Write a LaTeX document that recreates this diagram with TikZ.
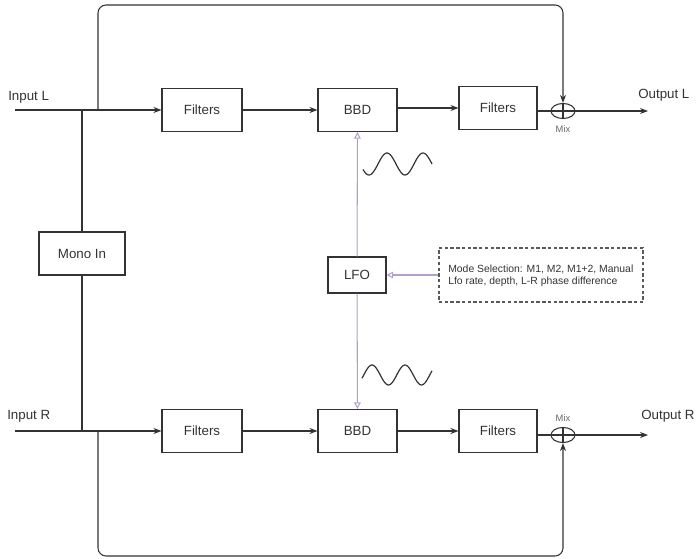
\documentclass[tikz,border=0pt]{standalone}
\usepackage{fontspec}
\setmainfont{Liberation Sans}
\usetikzlibrary{arrows.meta,shapes.geometric}
\definecolor{ln}{HTML}{333333}
\definecolor{lfoc}{HTML}{B49FC8}
\tikzset{
  blk/.style={draw=ln,line width=0.8pt,minimum height=43*0.75pt,inner sep=0pt,font=\fontsize{10}{12}\selectfont,text=ln},
  conn/.style={draw=ln,line width=0.8pt,-{Stealth[length=6pt,width=4.5pt]}},
  plain/.style={draw=ln,line width=0.8pt},
  pconn/.style={draw=lfoc,line width=0.8pt,-{Triangle[open,length=5pt,width=5pt]}},
  mixer/.style={ellipse,draw=ln,line width=0.8pt,minimum width=24*0.75pt,minimum height=15*0.75pt,inner sep=0pt},
  lbl/.style={font=\fontsize{10}{12}\selectfont,text=ln,inner sep=0pt,anchor=west},
  mixlbl/.style={font=\fontsize{7}{8}\selectfont,text=black!60,inner sep=0pt},
  wave/.style={draw=ln,line width=0.9pt,smooth}
}
\begin{document}
\begin{tikzpicture}[x=0.75pt,y=-0.75pt]
\useasboundingbox (0,0) rectangle (696,559);
% nodes top row
\node[blk,minimum width=80*0.75pt] (fL) at (202,110) {Filters};
\node[blk,minimum width=79*0.75pt] (bL) at (357.5,110) {BBD};
\node[blk,minimum width=78*0.75pt] (fL2) at (498,108) {Filters};
\node[mixer] (mL) at (563,111) {};
% bottom row
\node[blk,minimum width=80*0.75pt] (fR) at (202,431) {Filters};
\node[blk,minimum width=79*0.75pt] (bR) at (357.5,431) {BBD};
\node[blk,minimum width=78*0.75pt] (fR2) at (498,431) {Filters};
\node[mixer] (mR) at (563,435) {};
% middle
\node[blk,minimum width=86*0.75pt] (mono) at (82,253.5) {Mono In};
\node[blk,minimum width=58*0.75pt,minimum height=36*0.75pt] (lfo) at (357,275) {LFO};
\node[draw=black!65,line width=1pt,dash pattern=on 2.5pt off 1.8pt,minimum width=204*0.75pt,minimum height=54*0.75pt,inner sep=0pt] (ctl) at (541,275) {};
\node[font=\fontsize{7.8}{9}\selectfont,text=ln,align=left,anchor=west,inner sep=0pt] (ctltxt) at (448,276) {Mode Selection: M1, M2, M1+2, Manual\\Lfo rate, depth, L-R phase difference};
% labels
\node[lbl] (inLt) at (8,97) {Input L};
\node[lbl] (outLt) at (638,95) {Output L};
\node[lbl] (inRt) at (7,416) {Input R};
\node[lbl] (outRt) at (641,416) {Output R};
\node[mixlbl] (mixLt) at (563,129) {Mix};
\node[mixlbl] (mixRt) at (563,418) {Mix};
% coordinates
\coordinate (inL) at (15,110);
\coordinate (jL1) at (82,110);
\coordinate (jL2) at (98,110);
\coordinate (inR) at (15,431);
\coordinate (jR1) at (82,431);
\coordinate (jR2) at (98,431);
\coordinate (outL) at (648,111);
\coordinate (outR) at (648,435);
% crosses in mixers
\draw[plain] (mL.north) -- (mL.south);
\draw[plain] (mL.west) -- (mL.east);
\draw[plain] (mR.north) -- (mR.south);
\draw[plain] (mR.west) -- (mR.east);
% top signal path
\draw[conn] (inL) -- (fL);
\draw[conn] (fL) -- (bL);
\draw[conn] (bL.east |- fL2) -- (fL2);
\draw[plain] (fL2.east |- mL) -- (mL);
\draw[conn] (mL) -- (outL);
\draw[conn,rounded corners=6pt] (jL2) -- (98,5) -- (563,5) -- (mL.north);
% bottom signal path
\draw[conn] (inR) -- (fR);
\draw[conn] (fR) -- (bR);
\draw[conn] (bR) -- (fR2);
\draw[plain] (fR2.east |- mR) -- (mR);
\draw[conn] (mR) -- (outR);
\draw[conn,rounded corners=6pt] (jR2) -- (98,556) -- (563,556) -- (mR.south);
% mono
\draw[plain] (jL1) -- (mono);
\draw[plain] (mono) -- (jR1);
% LFO
\draw[pconn] (lfo) -- (bL);
\draw[pconn] (lfo) -- (bR);
\draw[pconn] (ctl) -- (lfo);
% waves
\draw[wave] plot[domain=363:432,samples=60] (\x,{164+11*cos(180*(\x-369)/18)});
\draw[wave] plot[domain=362:432,samples=60] (\x,{375-10*cos(180*(\x-372)/16.5)});
\end{tikzpicture}
\end{document}
